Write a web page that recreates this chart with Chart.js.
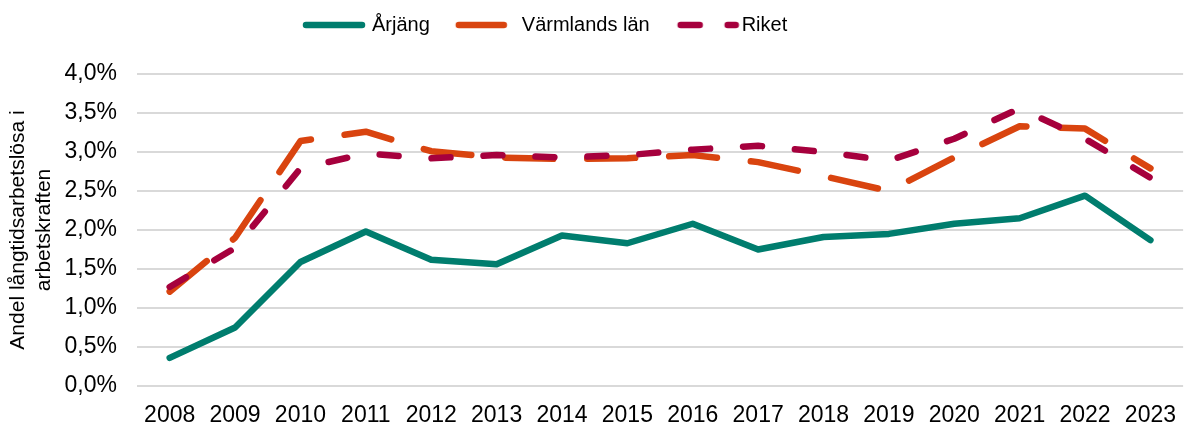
<!DOCTYPE html>
<html>
<head>
<meta charset="utf-8">
<script src="https://cdn.jsdelivr.net/npm/chart.js@4"></script>
<style>
  body { margin: 0; overflow: hidden; background: #fff; }
</style>
</head>
<body>
<canvas id="chart" width="1192" height="426"></canvas>
<script>
// Data (percent)
const years = ['2008', '2009', '2010', '2011', '2012', '2013', '2014', '2015',
  '2016', '2017', '2018', '2019', '2020', '2021', '2022', '2023'];
const arjang = [0.36, 0.75, 1.59, 1.98, 1.62, 1.56, 1.93, 1.83, 2.08, 1.75, 1.91, 1.95, 2.08, 2.15, 2.44, 1.87];
const varmland = [1.21, 1.90, 3.14, 3.26, 3.01, 2.93, 2.91, 2.92, 2.96, 2.87, 2.69, 2.50, 2.93, 3.33, 3.30, 2.79];
const riket = [1.27, 1.77, 2.79, 2.98, 2.92, 2.96, 2.93, 2.96, 3.03, 3.08, 3.00, 2.89, 3.17, 3.56, 3.17, 2.67];
const seriesNames = ['Årjäng', 'Värmlands län', 'Riket'];
const yTitle = ['Andel långtidsarbetslösa i', 'arbetskraften'];

const FONT = "'Liberation Sans', Arial, sans-serif";
const LINE_W = 6.5;

// small legend sample, drawn like the excel legend (pieces of line)
function legendIcon(color, pieces) {
  const c = document.createElement('canvas');
  c.width = 72;
  c.height = 10;
  const g = c.getContext('2d');
  g.strokeStyle = color;
  g.lineWidth = LINE_W;
  g.lineCap = 'round';
  pieces.forEach(p => {
    g.beginPath();
    g.moveTo(p[0], 5);
    g.lineTo(p[1], 5);
    g.stroke();
  });
  return c;
}

// move the legend to where the reference has it
const legendShift = {
  id: 'legendShift',
  afterLayout(chart) {
    const lg = chart.legend;
    lg.top -= 29;
    lg.left = 280;
  }
};

function line(label, data, color, dash, order, icon) {
  return {
    label: label,
    data: data,
    borderColor: color,
    backgroundColor: color,
    borderWidth: LINE_W,
    borderDash: dash,
    borderCapStyle: 'round',
    borderJoinStyle: 'round',
    pointRadius: 0,
    pointStyle: icon,
    tension: 0,
    order: order
  };
}

window.onload = function () {
  const ctx = document.getElementById('chart').getContext('2d');
  new Chart(ctx, {
    type: 'line',
    data: {
      labels: years,
      datasets: [
        line(seriesNames[0], arjang, '#007d6e', [], 2, legendIcon('#007d6e', [[8, 64]])),
        line(seriesNames[1], varmland, '#d9440f', [48, 34], 1, legendIcon('#d9440f', [[11, 56]])),
        line(seriesNames[2], riket, '#a6003d', [19, 33], 0, legendIcon('#a6003d', [[13, 32], [60, 68]]))
      ]
    },
    options: {
      responsive: false,
      animation: false,
      layout: { padding: { top: 18, left: 0, right: 0, bottom: 0 } },
      plugins: {
        tooltip: { enabled: false },
        legend: {
          position: 'top',
          align: 'start',
          labels: {
            usePointStyle: true,
            pointStyleWidth: 56,
            padding: 26,
            color: '#000',
            font: { family: FONT, size: 20 },
            sort: (a, b) => a.datasetIndex - b.datasetIndex
          }
        }
      },
      scales: {
        x: {
          offset: true,
          grid: { display: false, drawTicks: false },
          border: { display: false },
          ticks: {
            padding: 16,
            color: '#000',
            maxRotation: 0,
            autoSkip: false,
            font: { family: FONT, size: 23 }
          },
          afterFit: scale => { scale.height = 40; }
        },
        y: {
          min: 0,
          max: 4,
          grid: { color: '#d9d9d9', lineWidth: 2, drawTicks: false },
          border: { display: false },
          ticks: {
            stepSize: 0.5,
            padding: 20,
            color: '#000',
            font: { family: FONT, size: 23 },
            callback: v => v.toFixed(1).replace('.', ',') + '%'
          },
          title: {
            display: true,
            text: yTitle,
            color: '#000',
            font: { family: FONT, size: 21, lineHeight: 1.2 },
            padding: { top: 6, bottom: 0 }
          },
          afterFit: scale => { scale.width = 137; }
        }
      }
    },
    plugins: [legendShift]
  });
};
</script>
</body>
</html>
